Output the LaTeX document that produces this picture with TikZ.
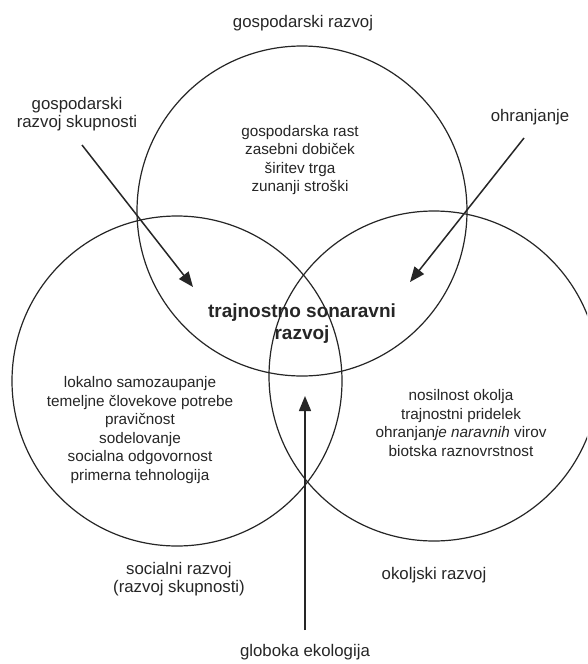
\documentclass[tikz,border=0pt]{standalone}
\usepackage{fontspec}
\setmainfont{Liberation Sans}
\usetikzlibrary{arrows.meta}
\tikzset{
  ring/.style={circle, draw=black!85, line width=1.2pt, minimum size=330pt, inner sep=0pt},
  inner/.style={align=center, inner sep=0pt, text=black!85, font=\fontsize{15.3}{18.5}\selectfont},
  lbl/.style={align=center, inner sep=0pt, text=black!85, font=\fontsize{16.8}{18.5}\selectfont},
  core/.style={align=center, inner sep=0pt, text=black!85, font=\bfseries\fontsize{19}{22}\selectfont},
  arr/.style={draw=black!85, line width=1.5pt, -{Triangle[length=15pt,width=12pt]}},
}
\begin{document}
\begin{tikzpicture}[x=1pt,y=-1pt]
\useasboundingbox (0,0) rectangle (587,664);
\clip (0,0) rectangle (587,664);
\fill[white] (0,0) rectangle (587,664);
% circles
\node[ring] (econ) at (302,211) {};
\node[ring] (soc) at (177,381) {};
\node[ring] (env) at (434,376) {};
% titles
\node[lbl] (tEcon) at (303,23) {gospodarski razvoj};
\node[lbl] (tCom) at (77,114) {gospodarski\\razvoj skupnosti};
\node[lbl] (tCons) at (530,117) {ohranjanje};
\node[lbl] (tSoc) at (179,579) {socialni razvoj\\(razvoj skupnosti)};
\node[lbl] (tEnv) at (434,575) {okoljski razvoj};
\node[lbl] (tDeep) at (305,652) {globoka ekologija};
% inner texts
\node[inner] (iEcon) at (300,160) {gospodarska rast\\zasebni dobiček\\širitev trga\\zunanji stroški};
\node[inner] (iSoc) at (140,430) {lokalno samozaupanje\\temeljne človekove potrebe\\pravičnost\\sodelovanje\\socialna odgovornost\\primerna tehnologija};
\node[inner] (iEnv) at (461,423) {nosilnost okolja\\trajnostni pridelek\\ohranjan\textit{je naravnih} virov\\biotska raznovrstnost};
\node[core] (center) at (302,324) {trajnostno sonaravni\\razvoj};
% arrows
\coordinate (a1s) at (82,145);
\coordinate (a1e) at (193,287);
\coordinate (a2s) at (524,138);
\coordinate (a2e) at (410,282);
\coordinate (a3s) at (305,630);
\coordinate (a3e) at (305,396);
\draw[arr] (a1s) -- (a1e);
\draw[arr] (a2s) -- (a2e);
\draw[arr] (a3s) -- (a3e);
\end{tikzpicture}
\end{document}
